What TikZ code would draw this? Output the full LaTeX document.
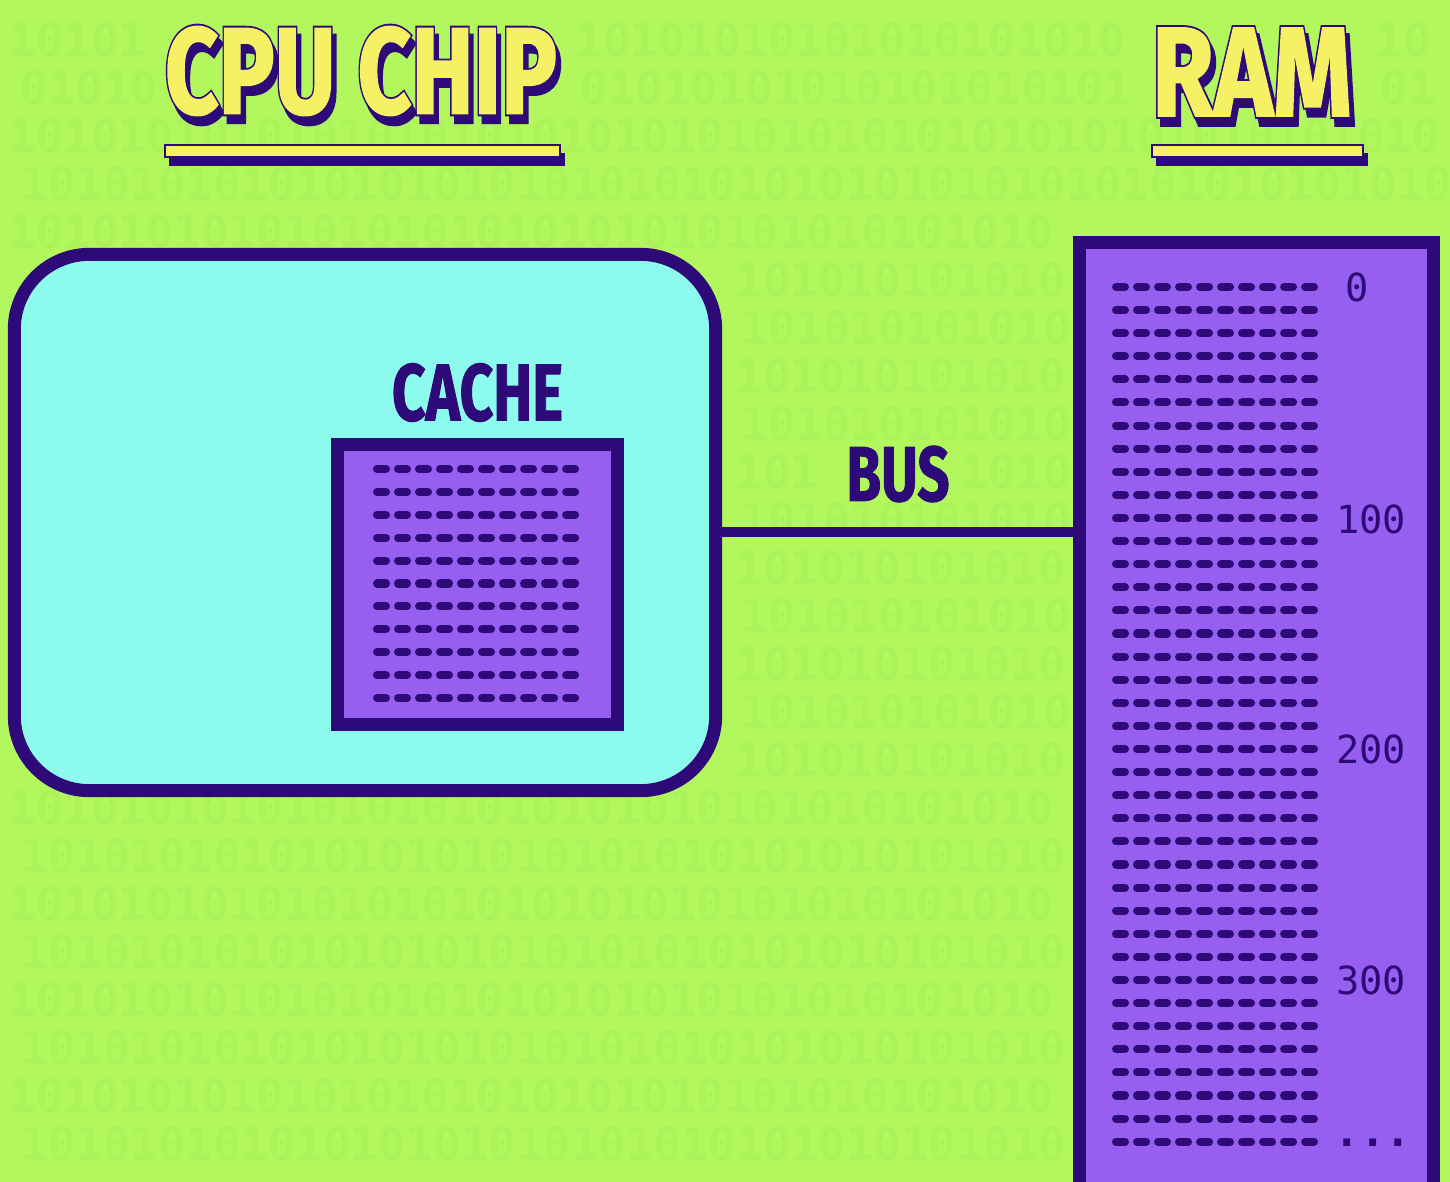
\documentclass[tikz,border=0pt]{standalone}
\usepackage{fontspec}
\usetikzlibrary{positioning}
\newfontfamily\headfont[BoldFeatures={FakeBold=1.5}]{Fira Sans}
\newfontfamily\outlinefont[BoldFeatures={FakeBold=4.5}]{Fira Sans}
\newfontfamily\addrfont{DejaVu Sans Mono}
\definecolor{bggreen}{HTML}{B2F75E}
\definecolor{bitgreen}{HTML}{ACF25A}
\definecolor{chipcyan}{HTML}{8CFAEC}
\definecolor{rampurple}{HTML}{965FF0}
\definecolor{darkpurple}{HTML}{2D0A78}
\definecolor{titleyellow}{HTML}{F5F064}
\newcommand{\headtext}[3]{\resizebox{#1}{#2}{\headfont\bfseries #3}}
\newcommand{\outlinetext}[3]{\resizebox{#1}{#2}{\outlinefont\bfseries #3}}
\newcommand{\bitslong}{1010101010101010101010101010101010101010101010101010}
\newcommand{\bitsmid}{10101010101010101010101010101010101010}
\newcommand{\bitsshort}{101010101010}
\tikzset{
  border/.style={draw=darkpurple, line width=0.13cm},
  chipbox/.style={border, fill=chipcyan, rounded corners=0.75cm, inner sep=0pt},
  membox/.style={border, fill=rampurple, inner sep=0pt},
  cellrow/.style={darkpurple, line width=0.08cm, line cap=round, dash pattern=on 0.09cm off 0.12cm},
  busline/.style={darkpurple, line width=0.10cm},
  label/.style={text=darkpurple, inner sep=0pt},
  addr/.style={text=darkpurple, inner sep=0pt, font=\addrfont\fontsize{11}{11}\selectfont},
  bits/.style={text=bitgreen, inner sep=0pt, anchor=west, font=\addrfont\bfseries\fontsize{13}{13}\selectfont},
}
\begin{document}
\begin{tikzpicture}[x=0.01cm, y=-0.01cm]
  \useasboundingbox (0,0) rectangle (1450,1182);
  \fill[bggreen] (0,0) rectangle (1450,1182);

  % faint binary in the background
  \foreach \x/\y/\b [count=\i] in {8/40/10101, 575/40/10101010101010101010, 1375/40/10,
      20/88/01010, 580/88/01010101010101010101, 1380/88/01,
      8/136/\bitslong, 20/184/\bitslong, 8/232/\bitsmid,
      735/280/\bitsshort, 740/328/\bitsshort, 735/376/\bitsshort, 740/424/\bitsshort,
      735/472/101, 960/472/1010, 740/520/\bitsshort, 735/568/\bitsshort, 740/616/\bitsshort,
      735/664/\bitsshort, 740/712/\bitsshort, 735/760/\bitsshort,
      8/808/\bitsmid, 20/856/\bitsmid, 8/904/\bitsmid, 20/952/\bitsmid,
      8/1000/\bitsmid, 20/1048/\bitsmid, 8/1096/\bitsmid, 20/1144/\bitsmid}
    \node[bits] (bits\i) at (\x,\y) {\b};

  % titles
  \node[label] (cpushadow) at (365,79) {\outlinetext{3.92cm}{0.87cm}{CPU CHIP}};
  \node[label] (ramshadow) at (1256,80) {\outlinetext{2.0cm}{0.88cm}{RAM}};
  \node[label] (cpuline) at (361,71) {\outlinetext{3.92cm}{0.87cm}{CPU CHIP}};
  \node[label] (ramline) at (1252,72) {\outlinetext{2.0cm}{0.88cm}{RAM}};
  \node[label, text=titleyellow] (cputitle) at (361,71) {\headtext{3.92cm}{0.87cm}{CPU CHIP}};
  \node[label, text=titleyellow] (ramtitle) at (1252,72) {\headtext{2.0cm}{0.88cm}{RAM}};

  \fill[darkpurple] (169,153) rectangle (565,166);
  \filldraw[fill=titleyellow, draw=darkpurple, line width=0.015cm] (165,145) rectangle (560,157);
  \fill[darkpurple] (1156,153) rectangle (1368,166);
  \filldraw[fill=titleyellow, draw=darkpurple, line width=0.015cm] (1152,145) rectangle (1363,157);

  % cpu chip and cache
  \node[chipbox, minimum width=7.01cm, minimum height=5.36cm] (chip) at (365,522.5) {};
  \node[membox, minimum width=2.79cm, minimum height=2.79cm] (cache) at (477.5,584.5) {};
  \node[label, above=0.16cm of cache] (cachelabel) {\headtext{1.71cm}{0.57cm}{CACHE}};
  \foreach \r in {0,...,10}
    \draw[cellrow] (377,{469+22.9*\r}) -- ++(200,0);

  % ram
  \node[membox, minimum width=3.53cm, minimum height=9.57cm] (ram) at (1256.5,721.5) {};
  \foreach \r in {0,...,37}
    \draw[cellrow] (1116,{287+23.1*\r}) -- ++(198,0);
  \node[addr] (addr0) at (1357,287) {0};
  \node[addr] (addr100) at (1371,519) {100};
  \node[addr] (addr200) at (1371,749) {200};
  \node[addr] (addr300) at (1371,980) {300};
  \node[addr, font=\addrfont\bfseries\fontsize{12}{12}\selectfont] (addrmore) at (1373,1143) {...};

  % bus
  \coordinate (bus) at (0,532);
  \draw[busline] (chip.east |- bus) -- (ram.west |- bus);
  \node[label] (buslabel) at (898,474) {\headtext{1.03cm}{0.55cm}{BUS}};
\end{tikzpicture}
\end{document}
